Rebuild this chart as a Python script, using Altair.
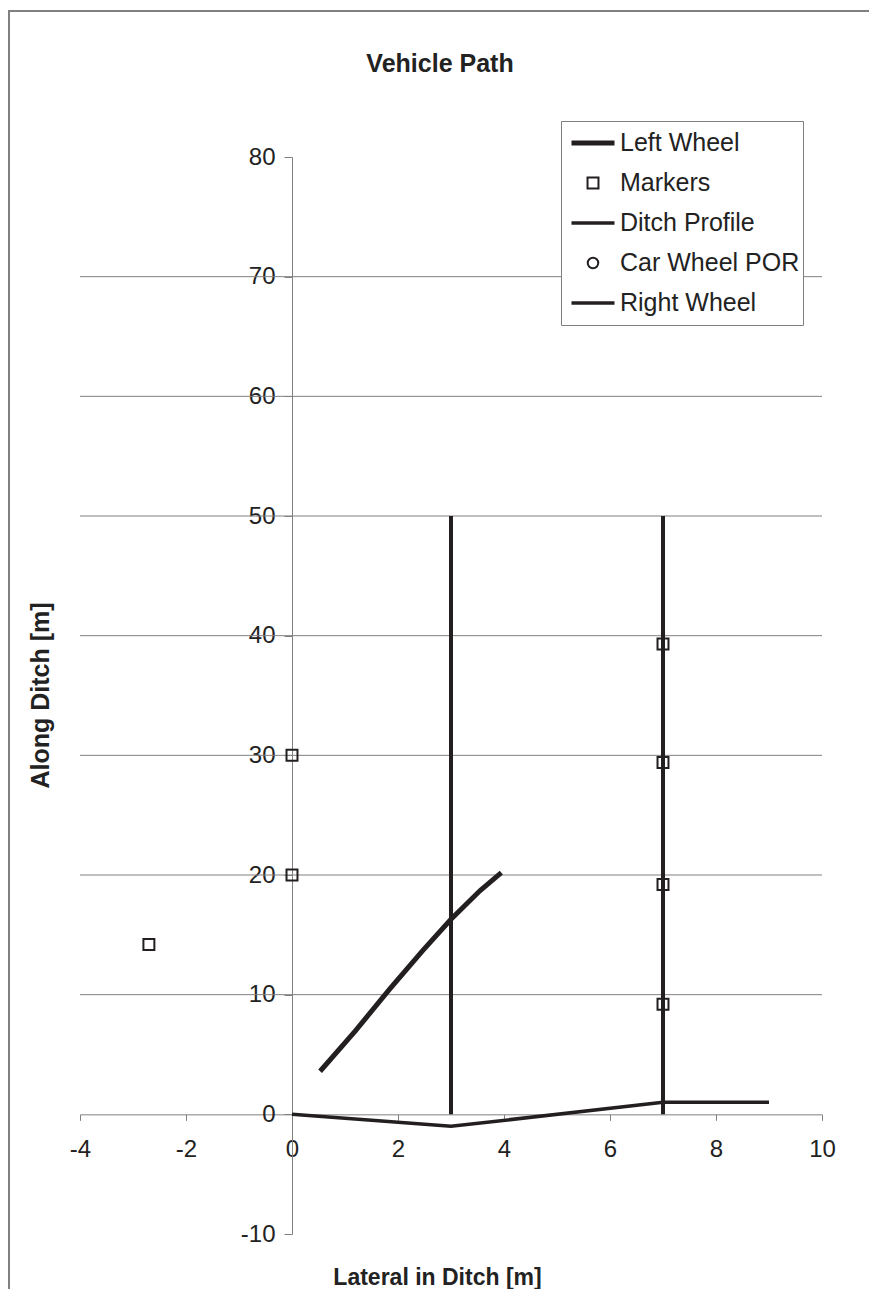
import altair as alt
import pandas as pd

# ---- data ----
series_names = ["Left Wheel", "Markers", "Ditch Profile", "Car Wheel POR", "Right Wheel"]
legend_shapes = ["stroke", "square", "stroke", "circle", "stroke"]
legend_sizes = [1849, 120, 1849, 110, 1849]
legend_widths = [5, 2, 3.5, 2, 3.5]

left_x = [0.53, 1.2, 1.85, 2.47, 3.0, 3.55, 3.95]
left_y = [3.6, 7.0, 10.5, 13.7, 16.3, 18.7, 20.2]

marker_x = [-2.7, 0, 0, 7, 7, 7, 7]
marker_y = [14.2, 20, 30, 9.2, 19.2, 29.4, 39.3]

ditch_x = [0, 3, 7, 9]
ditch_y = [0, -1, 1, 1]

edge_x = [3, 3, 7, 7]
edge_y = [0, 50, 0, 50]
edge_id = ["a", "a", "b", "b"]

grid_y = [10, 20, 30, 40, 50, 60, 70]
x_ticks = [-4, -2, 0, 2, 4, 6, 8, 10]
y_ticks = [-10, 0, 10, 20, 30, 40, 50, 60, 70, 80]

# ---- layout ----
W, H = 742, 1077
XMIN, XMAX, YMIN, YMAX = -4, 10, -10, 80
x0_px = (0 - XMIN) / (XMAX - XMIN) * W
y0_px = (YMAX - 0) / (YMAX - YMIN) * H
FONT = "Liberation Sans"
INK = "#231f20"
GRAY = "#808080"
TXT = "#222222"
LABEL_EXPR = "datum.value < 0 ? '-' + abs(datum.value) : '' + datum.value"

xs = alt.Scale(domain=[XMIN, XMAX], nice=False, zero=False)
ys = alt.Scale(domain=[YMIN, YMAX], nice=False, zero=False)

xaxis = alt.Axis(values=x_ticks, offset=-(H - y0_px), grid=False, domainColor=GRAY,
                 tickColor=GRAY, tickSize=6, labelFontSize=24, labelColor=TXT,
                 labelPadding=17, labelFlush=False, labelOverlap=False, labelExpr=LABEL_EXPR,
                 title="Lateral in Ditch [m]", titleFontSize=23, titleFontWeight="bold",
                 titleColor=TXT, titleX=357, titleY=1121 - y0_px,
                 titleBaseline="middle", titleAlign="center")
yaxis = alt.Axis(values=y_ticks, offset=-x0_px, orient="left", grid=False, domainColor=GRAY,
                 tickColor=GRAY, tickSize=8, labelFontSize=24, labelColor=TXT,
                 labelPadding=9, labelFlush=False, labelOverlap=False, labelExpr=LABEL_EXPR,
                 title="Along Ditch [m]", titleFontSize=25, titleFontWeight="bold",
                 titleColor=TXT, titleX=-(x0_px + 40), titleY=538, titleAngle=270,
                 titleBaseline="middle", titleAlign="center")

grid_df = pd.DataFrame({"y": grid_y})
left_df = pd.DataFrame({"x": left_x, "y": left_y})
marker_df = pd.DataFrame({"x": marker_x, "y": marker_y, "series": ["Markers"] * len(marker_x)})
ditch_df = pd.DataFrame({"x": ditch_x, "y": ditch_y})
edge_df = pd.DataFrame({"x": edge_x, "y": edge_y, "id": edge_id})

grid = alt.Chart(grid_df).mark_rule(color=GRAY, strokeWidth=1).encode(
    y=alt.Y("y:Q", scale=ys, axis=yaxis)
)

edges = alt.Chart(edge_df).mark_line(color=INK, strokeWidth=4).encode(
    x=alt.X("x:Q", scale=xs, axis=xaxis),
    y=alt.Y("y:Q", scale=ys, axis=yaxis),
    detail="id:N",
    order="y:Q",
)

ditch = alt.Chart(ditch_df).mark_line(color=INK, strokeWidth=3.5).encode(
    x=alt.X("x:Q", scale=xs, axis=xaxis),
    y=alt.Y("y:Q", scale=ys, axis=yaxis),
)

left = alt.Chart(left_df).mark_line(color=INK, strokeWidth=5).encode(
    x=alt.X("x:Q", scale=xs, axis=xaxis),
    y=alt.Y("y:Q", scale=ys, axis=yaxis),
)

legend = alt.Legend(orient="none", legendX=481, legendY=-36, title=None,
                    fillColor="white", strokeColor=GRAY, padding=3,
                    labelFontSize=25, labelFont=FONT, labelColor=TXT, labelLimit=400,
                    labelOffset=3, rowPadding=2, clipHeight=38, symbolOffset=5,
                    symbolStrokeColor=INK, symbolFillColor="white")

markers = alt.Chart(marker_df).mark_point(filled=False, color=INK, opacity=1).encode(
    x=alt.X("x:Q", scale=xs, axis=xaxis),
    y=alt.Y("y:Q", scale=ys, axis=yaxis),
    shape=alt.Shape("series:N", scale=alt.Scale(domain=series_names, range=legend_shapes), legend=legend),
    size=alt.Size("series:N", scale=alt.Scale(type="ordinal", domain=series_names, range=legend_sizes), legend=legend),
    strokeWidth=alt.StrokeWidth("series:N", scale=alt.Scale(type="ordinal", domain=series_names, range=legend_widths), legend=legend),
)

frame_top = alt.Chart(grid_df).mark_rule(color=GRAY, strokeWidth=2).encode(
    x=alt.value(-72), x2=alt.value(W + 60), y=alt.value(-146)
)
frame_left = alt.Chart(grid_df).mark_rule(color=GRAY, strokeWidth=2).encode(
    x=alt.value(-71), y=alt.value(-146), y2=alt.value(H + 60)
)

chart = alt.layer(grid, edges, ditch, left, markers, frame_top, frame_left).properties(
    width=W, height=H,
    title=alt.TitleParams("Vehicle Path", fontSize=25, fontWeight="bold", font=FONT,
                          color=TXT, anchor="middle", dx=-11, offset=-87, baseline="alphabetic"),
    autosize=alt.AutoSizeParams(type="none"),
    padding={"left": 72, "top": 149, "right": 47, "bottom": 55},
).configure(font=FONT).configure_view(stroke=None)

chart.save("out.html", embed_options={"renderer": "svg", "actions": False})
